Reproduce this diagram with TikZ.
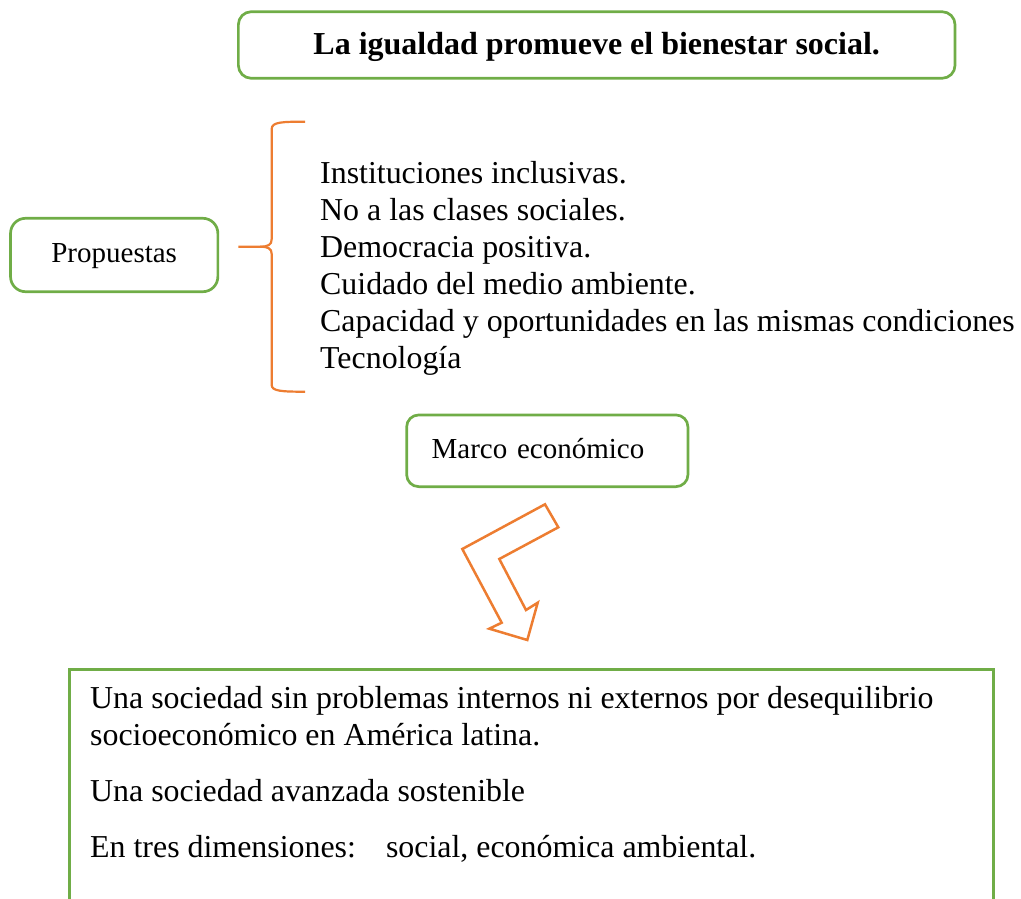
\documentclass[tikz,border=0pt]{standalone}
\usepackage{fontspec}
\setmainfont{Liberation Serif}
\definecolor{boxgreen}{RGB}{112,173,71}
\definecolor{brorange}{RGB}{237,125,49}
\begin{document}
\begin{tikzpicture}[x=1pt,y=-1pt,
  gbox/.style={draw=boxgreen, line width=2.7pt, rounded corners=13pt, inner sep=0pt},
  listline/.style={anchor=base west, inner sep=0pt, font=\fontsize{31.9}{36.7}\selectfont},
  resline/.style={anchor=base west, inner sep=0pt, font=\fontsize{31.9}{36.7}\selectfont},
  orline/.style={draw=brorange, line width=2.2pt}
]
\useasboundingbox (0,0) rectangle (1021,899);
\clip (0,0) rectangle (1021,899);

% title
\node[gbox, minimum width=716.7pt, minimum height=66.6pt,
      font=\fontsize{32}{36}\selectfont\bfseries, text height=26pt, text depth=6pt]
  (title) at (596.7,45) {La igualdad promueve el bienestar social.};

% Propuestas
\node[gbox, rounded corners=15pt, minimum width=207.3pt, minimum height=73.4pt,
      font=\fontsize{29}{33}\selectfont, text height=20pt, text depth=6pt]
  (prop) at (114.2,255) {Propuestas};

% brace
\draw[orline, line join=round]
  (305,121.7) .. controls (282,121.7) and (271.7,122) .. (271.7,129)
  -- (271.7,239) .. controls (271.7,245) and (268,246.7) .. (260,246.7)
  -- (238.3,246.7);
\draw[orline]
  (260,246.7) .. controls (268,246.7) and (271.7,248.5) .. (271.7,254)
  -- (271.7,385) .. controls (271.7,391.2) and (282,391.7) .. (305,391.7);

% list
\node[listline] (l1) at (320,183.5) {Instituciones inclusivas.};
\node[listline] (l2) at (320,220.5) {No a las clases sociales.};
\node[listline] (l3) at (320,257.5) {Democracia positiva.};
\node[listline] (l4) at (320,294.5) {Cuidado del medio ambiente.};
\node[listline] (l5) at (320,331.5) {Capacidad y oportunidades en las mismas condiciones};
\node[listline] (l6) at (320,368.5) {Tecnología};

% Marco economico
\node[gbox, rounded corners=12pt, minimum width=281.3pt, minimum height=71.7pt,
      inner xsep=25pt, text width=231.3pt, align=left,
      font=\fontsize{29}{33}\selectfont, text height=20pt, text depth=5.6pt]
  (marco) at (547.3,450.8) {Marco económico};

% bent arrow
\draw[draw=brorange, line width=2.5pt, line join=miter]
  (545,504.3) -- (558.3,527.3) -- (499.3,559) -- (526,610) -- (537.7,602.7)
  -- (527.3,640) -- (489.3,628.7) -- (501.7,622.7) -- (462.3,549) -- cycle;

% result box (open at the bottom of the page)
\draw[draw=boxgreen, line width=2.7pt]
  (69.5,905) -- (69.5,669.5) -- (993.3,669.5) -- (993.3,905);
\node[resline] (r1) at (90,708) {Una sociedad sin problemas internos ni externos por desequilibrio};
\node[resline] (r2) at (90,745) {socioeconómico en América latina.};
\node[resline] (r3) at (90,801) {Una sociedad avanzada sostenible};
\node[resline] (r4) at (90,857) {En tres dimensiones:\hspace{30pt}social, económica ambiental.};
\end{tikzpicture}
\end{document}
